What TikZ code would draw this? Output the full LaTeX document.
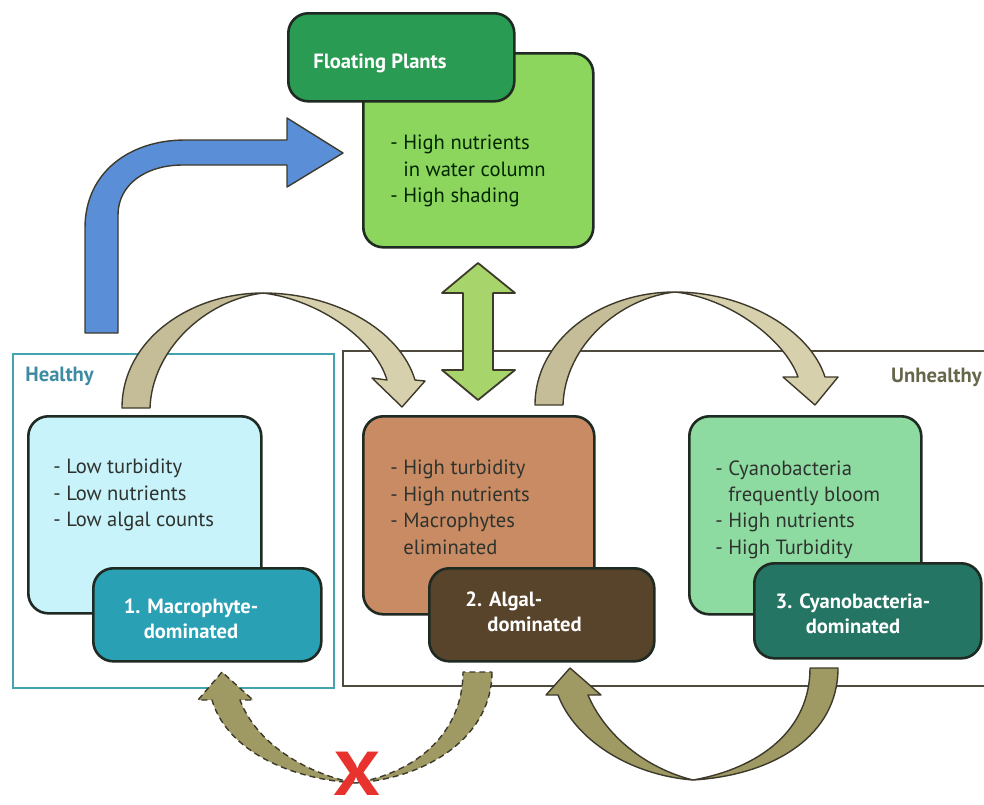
\documentclass[tikz,border=0pt]{standalone}
\usepackage{fontspec}
\setmainfont{PT Sans}
\usetikzlibrary{positioning}

\definecolor{boxline}{HTML}{1F2A22}
\definecolor{txtcol}{HTML}{2E332E}
\definecolor{hdrgreen}{HTML}{2A9B52}
\definecolor{bodygreen}{HTML}{8DD65E}
\definecolor{bluearr}{HTML}{5A8FD8}
\definecolor{dblgreen}{HTML}{A8D56B}
\definecolor{tanleft}{HTML}{C4BD98}
\definecolor{tanright}{HTML}{D7D0AC}
\definecolor{tanline}{HTML}{3D3A2C}
\definecolor{olivearr}{HTML}{9F9963}
\definecolor{macrofill}{HTML}{C8F3FA}
\definecolor{macrolbl}{HTML}{2AA0B5}
\definecolor{algalfill}{HTML}{C98B63}
\definecolor{algallbl}{HTML}{58432B}
\definecolor{cyanofill}{HTML}{8EDBA2}
\definecolor{cyanolbl}{HTML}{247563}
\definecolor{healthyline}{HTML}{43A3AF}
\definecolor{healthytext}{HTML}{3E8CA2}
\definecolor{unhline}{HTML}{4E4B3E}
\definecolor{unhtext}{HTML}{66664A}
\definecolor{xred}{HTML}{E8322E}

\begin{document}
\begin{tikzpicture}[x=0.5pt, y=-0.5pt,
		statebox/.style={rectangle, rounded corners=10pt, draw=boxline, line width=1.3pt, anchor=north west, inner sep=0pt},
		frame/.style={rectangle, line width=1.2pt, anchor=north west, inner sep=0pt},
		txt/.style={anchor=north west, align=left, inner sep=0pt, text=txtcol, font=\fontsize{10.3}{13.2}\selectfont},
		lbl/.style={inner sep=0pt, text=white, font=\fontsize{10.3}{12.5}\selectfont\bfseries},
		bigarrow/.style={draw=tanline, line width=0.7pt, line join=round},
		]
		\useasboundingbox (0,0) rectangle (984,804);
		
		%Frames
		\node[frame, draw=healthyline, minimum width=160.5pt, minimum height=167pt] (healthy) at (12,353) {};
		\node[frame, draw=unhline, minimum width=330pt, minimum height=167.5pt] (unhealthy) at (342,350) {};
		\node[lbl, text=healthytext, anchor=north west] at (25,367) {Healthy};
		\node[lbl, text=unhtext, anchor=north east] at (982,368) {Unhealthy};
		
		%Arrows
		\draw[bigarrow, fill=bluearr] (85,333) -- (85,228) .. controls (85,172) and (130,140) .. (185,140)
			-- (287,140) -- (287,118) -- (343,153) -- (287,187) -- (287,165) -- (183,165)
			.. controls (145,165) and (118,185) .. (118,215) -- (118,333) -- cycle;
		\draw[bigarrow, fill=dblgreen, line width=0.9pt] (478,263) -- (515,293) -- (493,293) -- (493,370) -- (515,370)
			-- (478,400) -- (442,370) -- (463,370) -- (463,293) -- (442,293) -- cycle;
		% healthy -> algal
		\draw[bigarrow, fill=tanleft] (122,408) .. controls (122,340) and (190,293) .. (263,293)
			.. controls (205,300) and (152,350) .. (150,408) -- cycle;
		\draw[bigarrow, fill=tanright] (263,293) .. controls (335,293) and (400,330) .. (415,380) -- (425,381)
			-- (402,407) -- (372,378) -- (387,380) .. controls (375,340) and (320,300) .. (263,293) -- cycle;
		% algal -> cyano
		\draw[bigarrow, fill=tanleft] (535,405) .. controls (535,340) and (600,292) .. (675,292)
			.. controls (620,298) and (565,345) .. (563,405) -- cycle;
		\draw[bigarrow, fill=tanright] (675,292) .. controls (745,292) and (810,330) .. (825,377) -- (838,377)
			-- (815,405) -- (783,377) -- (798,377) .. controls (785,340) and (730,298) .. (675,292) -- cycle;
		% algal -> macrophyte (blocked)
		\draw[bigarrow, fill=olivearr, densely dashed] (492,672) .. controls (492,735) and (430,778) .. (355,783)
			.. controls (420,772) and (463,730) .. (463,672) -- cycle;
		\draw[bigarrow, fill=olivearr, densely dashed] (355,783) .. controls (280,778) and (225,745) .. (212,700) -- (198,700)
			-- (222,672) -- (253,700) -- (240,700) .. controls (255,740) and (300,772) .. (355,783) -- cycle;
		% cyano -> algal
		\draw[bigarrow, fill=olivearr] (838,668) .. controls (838,735) and (775,775) .. (693,780)
			.. controls (760,768) and (810,730) .. (810,668) -- cycle;
		\draw[bigarrow, fill=olivearr] (693,780) .. controls (630,775) and (575,740) .. (558,695) -- (546,695)
			-- (570,668) -- (601,695) -- (588,695) .. controls (605,735) and (645,768) .. (693,780) -- cycle;
		\node[anchor=north, inner sep=0pt, xscale=1.2, text=xred, font=\fontsize{31}{31}\selectfont\bfseries] (nox) at (357,752) {X};
		
		%Floating plants
		\node[statebox, fill=bodygreen, minimum width=115pt, minimum height=97pt] (fb) at (362,52) {};
		\node[statebox, fill=hdrgreen, minimum width=113pt, minimum height=44pt] (fp) at (287,12) {};
		\node[lbl, anchor=north west] at (313,53) {Floating Plants};
		\node[txt, text=black!75!green!60!black] at (390,135) {- High nutrients\\\phantom{- }in water column\\- High shading};
		
		%States
		\node[statebox, fill=macrofill, minimum width=116.5pt, minimum height=98.5pt] (b1) at (27,415) {};
		\node[statebox, fill=macrolbl, minimum width=114pt, minimum height=46.5pt] (l1) at (92,567) {};
		\node[txt] at (53,459) {- Low turbidity\\- Low nutrients\\- Low algal counts};
		\node[lbl, anchor=north, align=center] at (191,598) {1. Macrophyte-\\dominated};
		
		\node[statebox, fill=algalfill, minimum width=115.5pt, minimum height=99pt] (b2) at (362,415) {};
		\node[statebox, fill=algallbl, minimum width=112.5pt, minimum height=46.5pt] (l2) at (428,567) {};
		\node[txt] at (390,460) {- High turbidity\\- High nutrients\\- Macrophytes\\\phantom{- }eliminated};
		\node[lbl, anchor=north west, align=left] at (465,591) {2. Algal-\\\hspace*{11pt}dominated};
		
		\node[statebox, fill=cyanofill, minimum width=116pt, minimum height=99pt] (b3) at (688,415) {};
		\node[statebox, fill=cyanolbl, minimum width=113.5pt, minimum height=47.5pt] (l3) at (753,562) {};
		\node[txt] at (715,460) {- Cyanobacteria\\\phantom{- }frequently bloom\\- High nutrients\\- High Turbidity};
		\node[lbl, anchor=north, align=center] at (853,593) {3. Cyanobacteria-\\dominated};
\end{tikzpicture}
\end{document}
